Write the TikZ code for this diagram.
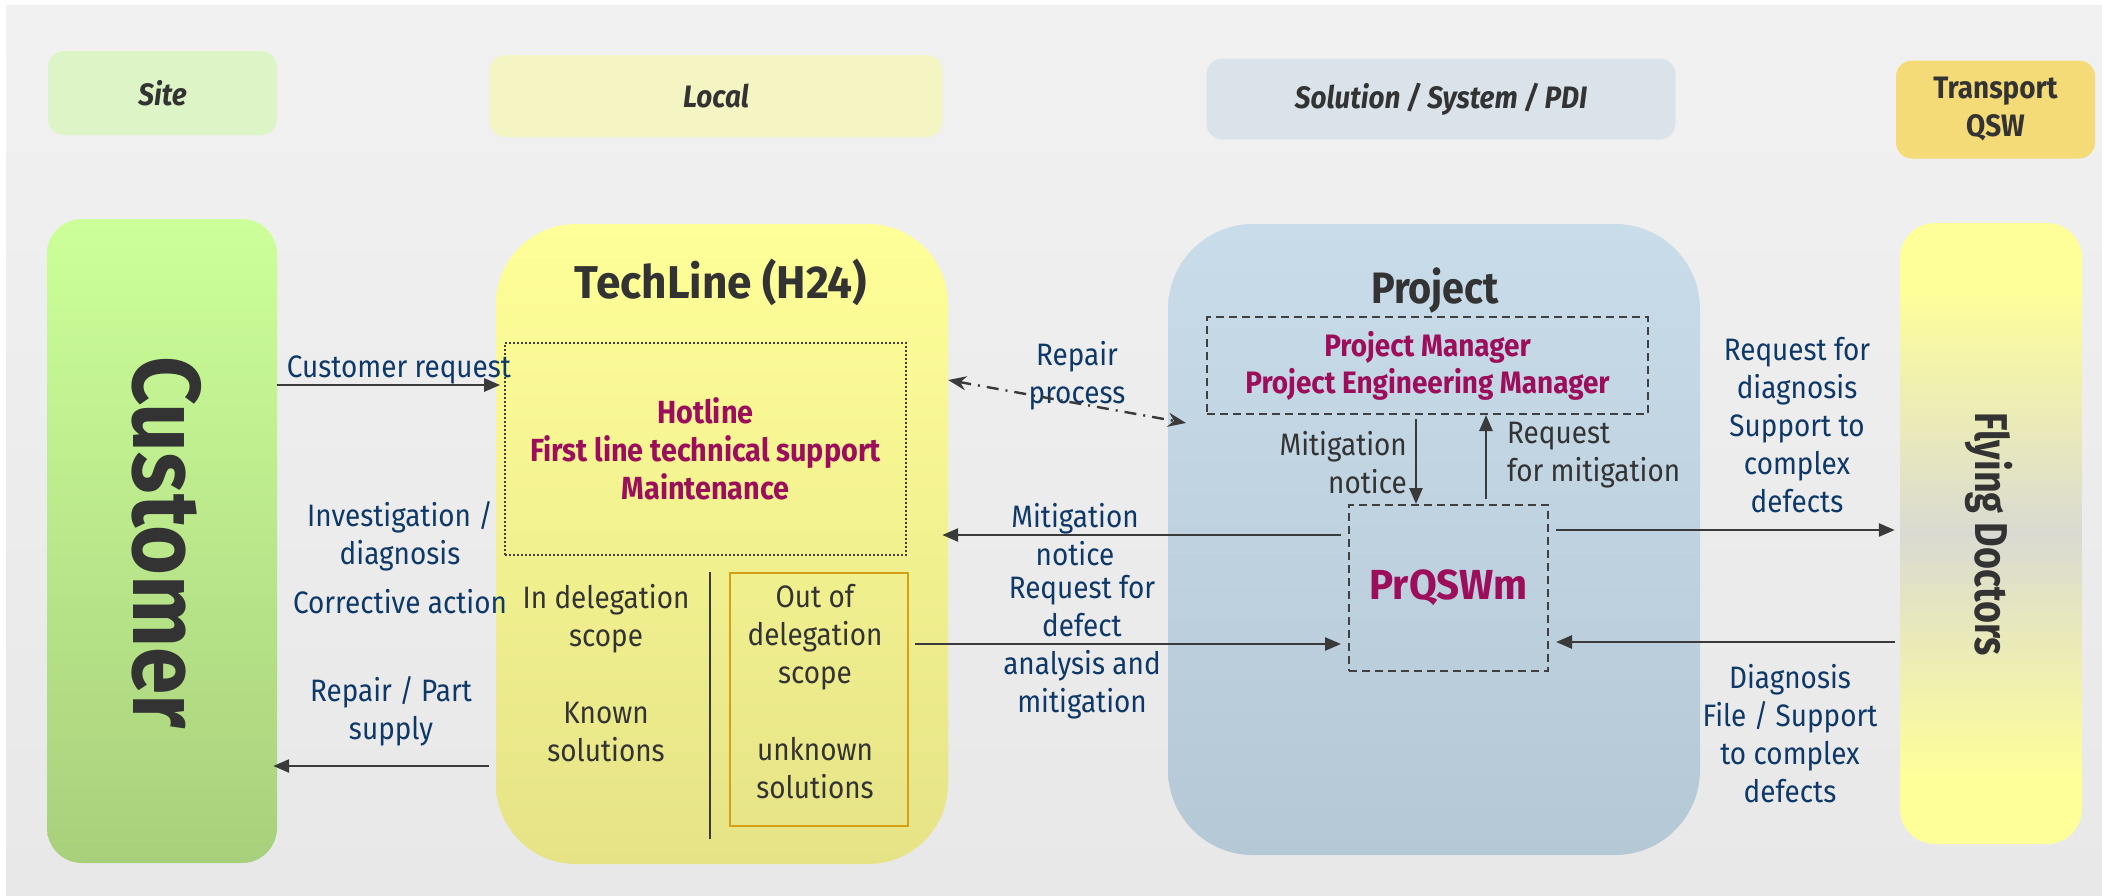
\documentclass[tikz,border=0pt]{standalone}
\usepackage{fontspec}
\setmainfont{Fira Sans}[FakeStretch=0.9]
\newfontfamily\narrowfont{Fira Sans}[FakeStretch=0.89]
\newfontfamily\slimfont{Fira Sans}[FakeStretch=0.82]
\newfontfamily\widefont{Fira Sans}[FakeStretch=0.96]
\usetikzlibrary{positioning,arrows.meta}

\definecolor{sitegreen}{HTML}{DDF5C6}
\definecolor{localyellow}{HTML}{F5F5C4}
\definecolor{solutionblue}{HTML}{DAE3EA}
\definecolor{transportgold}{HTML}{F5DB78}
\definecolor{custtop}{HTML}{CCFF99}
\definecolor{custbottom}{HTML}{A8D07C}
\definecolor{techtop}{HTML}{FFFF99}
\definecolor{techbottom}{HTML}{E5E386}
\definecolor{projtop}{HTML}{C9DCEA}
\definecolor{projbottom}{HTML}{B5C8D5}
\definecolor{fdyellow}{HTML}{FFFF99}
\definecolor{fdgray}{HTML}{DADAD2}
\definecolor{bgtop}{HTML}{F1F1F1}
\definecolor{bgbottom}{HTML}{E8E8E8}
\definecolor{labelblue}{HTML}{0D3868}
\definecolor{textgray}{HTML}{333333}
\definecolor{roleviolet}{HTML}{9C0D5B}
\definecolor{arrowgray}{HTML}{3A3A3A}
\definecolor{boxgray}{HTML}{404040}
\definecolor{scopegold}{HTML}{D4A017}

\pgfdeclareverticalshading{flyshade}{100bp}{color(0bp)=(fdyellow); color(30bp)=(fdyellow); color(50bp)=(fdgray); color(70bp)=(fdyellow); color(100bp)=(fdyellow)}

\tikzset{
  lane/.style={rounded corners=16pt, inner sep=0pt, text=textgray,
    font=\bfseries\itshape\fontsize{31}{38}\selectfont},
  actor/.style={inner sep=0pt},
  lbl/.style={inner sep=0pt, align=center, text=labelblue,
    font=\fontsize{31}{38}\selectfont},
  graylbl/.style={lbl, text=textgray},
  role/.style={inner sep=0pt, align=center, text=roleviolet,
    font=\bfseries\fontsize{32}{38}\selectfont},
  dashbox/.style={draw=boxgray, line width=2pt, dash pattern=on 8pt off 5pt},
  arr/.style={draw=arrowgray, line width=2.6pt, -{Triangle[length=16pt,width=13pt]}},
  dotarr/.style={draw=arrowgray, line width=2.4pt,
    dash pattern=on 12pt off 7pt on 2pt off 7pt,
    {Stealth[length=18pt,width=14pt]}-{Stealth[length=18pt,width=14pt]}}
}

\begin{document}
\begin{tikzpicture}[x=1pt,y=-1pt]
\useasboundingbox (0,0) rectangle (2102,895);
\fill[white] (0,0) rectangle (2102,895);
\shade[top color=bgtop, bottom color=bgbottom] (6,5) rectangle (2102,895);

% lanes
\node[lane, fill=sitegreen, minimum width=229pt, minimum height=84pt] (site) at (162.5,93) {Site};
\node[lane, fill=localyellow, minimum width=453pt, minimum height=82pt] (local) at (716,96) {Local};
\node[lane, fill=solutionblue, minimum width=469pt, minimum height=81pt] (solution) at (1441,99) {Solution / System / PDI};
\node[lane, fill=transportgold, font=\bfseries\fontsize{31}{38}\selectfont, align=center,
  minimum width=199pt, minimum height=98pt] (transport) at (1995.5,109.5) {Transport\\QSW};

% actors
\node[actor, top color=custtop, bottom color=custbottom, rounded corners=35pt,
  minimum width=230pt, minimum height=644pt] (customer) at (162,541) {};
\node[actor, top color=techtop, bottom color=techbottom, rounded corners=80pt,
  minimum width=452pt, minimum height=640pt] (techline) at (722,544) {};
\node[actor, top color=projtop, bottom color=projbottom, rounded corners=85pt,
  minimum width=532pt, minimum height=631pt] (project) at (1434,539.5) {};
\node[actor, shade, shading=flyshade, rounded corners=35pt,
  minimum width=182pt, minimum height=621pt] (flying) at (1991,533.5) {};

\node[inner sep=0pt, rotate=-90, text=textgray,
  font=\narrowfont\bfseries\fontsize{96}{96}\selectfont] (customertitle) at (167,542.5) {Customer};
\node[inner sep=0pt, rotate=-90, text=textgray,
  font=\slimfont\bfseries\fontsize{46}{46}\selectfont] (flyingtitle) at (1989,534) {Flying Doctors};
\node[inner sep=0pt, anchor=base, text=textgray,
  font=\widefont\bfseries\fontsize{46}{46}\selectfont] (techtitle) at (721,298) {TechLine (H24)};
\node[inner sep=0pt, anchor=base, text=textgray,
  font=\bfseries\fontsize{44}{44}\selectfont] (projtitle) at (1435,303) {Project};

% techline inside
\node[role, draw=boxgray, line width=1.6pt, dash pattern=on 2pt off 2pt,
  minimum width=401pt, minimum height=212pt] (hotline) at (705.5,449)
  {Hotline\\First line technical support\\Maintenance};
\node[draw=scopegold, line width=2pt, inner sep=0pt,
  minimum width=178pt, minimum height=253pt] (outscope) at (819,699.5) {};
\node[graylbl, anchor=base] (intext) at (606,761) {In delegation\\scope\\[39pt]Known\\solutions};
\node[graylbl, anchor=base] (outtext) at (815,798) {Out of\\delegation\\scope\\[39pt]unknown\\solutions};
\draw[arrowgray, line width=2.4pt] (710,572) -- (710,839);

% project inside
\node[role, dashbox, font=\bfseries\fontsize{31}{37}\selectfont,
  minimum width=441pt, minimum height=97pt] (pm) at (1427.5,365.5)
  {Project Manager\\Project Engineering Manager};
\node[role, dashbox, font=\widefont\bfseries\fontsize{42}{42}\selectfont,
  minimum width=199pt, minimum height=166pt] (prq) at (1448.5,588) {PrQSWm};

% labels
\node[lbl, anchor=base] (custreq) at (399,377) {Customer request};
\node[lbl, anchor=base] (investig) at (400,564) {Investigation /\\diagnosis};
\node[lbl, anchor=base] (corrective) at (400,613) {Corrective action};
\node[lbl, anchor=base] (repairsupply) at (391,739) {Repair / Part\\supply};
\node[lbl, anchor=base] (repairproc) at (1077,403) {Repair\\process};
\node[lbl, anchor=base] (mitnotice) at (1075,565) {Mitigation\\notice};
\node[lbl, anchor=base] (defectreq) at (1082,712) {Request for\\defect\\analysis and\\mitigation};
\node[graylbl, anchor=base east, align=right] (pmnotice) at (1407,493) {Mitigation\\notice};
\node[graylbl, anchor=base west, align=left] (pmrequest) at (1507,481) {Request\\for mitigation};
\node[lbl, anchor=base] (diagreq) at (1797,512) {Request for\\diagnosis\\Support to\\complex\\defects};
\node[lbl, anchor=base] (diagfile) at (1790,802) {Diagnosis\\File / Support\\to complex\\defects};

% connectors
\draw[arr] ([yshift=156pt]customer.east) -- ([xshift=-4pt,yshift=64pt]hotline.west);
\draw[arr] ([xshift=-7pt,yshift=-222pt]techline.west) -- ([xshift=-4pt,yshift=-225pt]customer.east);
\draw[dotarr] ([yshift=164pt]techline.east) -- ([xshift=-20pt,yshift=-57.5pt]pm.west);
\draw[arr] ([xshift=-7pt,yshift=53pt]prq.west) -- ([xshift=-6pt,yshift=9pt]techline.east);
\draw[arr] ([xshift=6pt,yshift=55.5pt]outscope.east) -- ([xshift=-7pt,yshift=-56pt]prq.west);
\draw[arr] ([xshift=-11.5pt,yshift=-4pt]pm.south) -- ([xshift=-32.5pt]prq.north);
\draw[arr] ([xshift=37.5pt,yshift=5pt]prq.north) -- ([xshift=58.5pt]pm.south);
\draw[arr] ([xshift=7pt,yshift=58pt]prq.east) -- ([xshift=-5pt,yshift=3.5pt]flying.west);
\draw[arr] ([xshift=-5pt,yshift=-108.5pt]flying.west) -- ([xshift=7pt,yshift=-54pt]prq.east);
\end{tikzpicture}
\end{document}
